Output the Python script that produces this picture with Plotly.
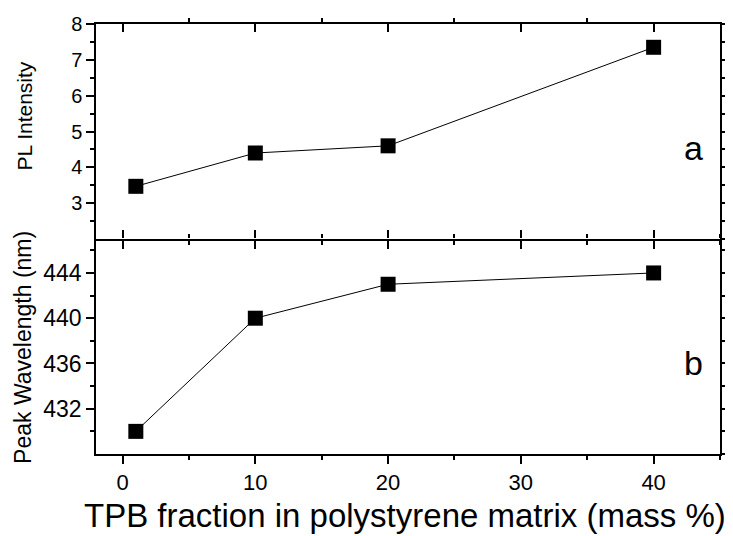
import plotly.graph_objects as go

# Data
tpb_fraction = [1, 10, 20, 40]
pl_intensity = [3.47, 4.4, 4.6, 7.35]
peak_wavelength = [430, 440, 443, 444]

x_ticks = [0, 10, 20, 30, 40]
pl_ticks = [3, 4, 5, 6, 7, 8]
wl_ticks = [432, 436, 440, 444]

FONT = "Liberation Sans, Arial, sans-serif"
X_RANGE = [-2, 45]
PL_RANGE = [2, 8]
WL_RANGE = [428, 447]

fig = go.Figure()

marker = dict(symbol="square", size=15, color="black")
line = dict(color="black", width=1)

fig.add_trace(go.Scatter(x=tpb_fraction, y=pl_intensity, mode="lines+markers",
                         marker=marker, line=line, xaxis="x2", yaxis="y2",
                         showlegend=False))
fig.add_trace(go.Scatter(x=tpb_fraction, y=peak_wavelength, mode="lines+markers",
                         marker=marker, line=line, xaxis="x", yaxis="y",
                         showlegend=False))

# transparent copies so the frame-only overlay axes get drawn
ghost = dict(mode="markers", marker=dict(opacity=0, size=1), hoverinfo="skip",
             showlegend=False)
fig.add_trace(go.Scatter(x=tpb_fraction, y=pl_intensity, xaxis="x3", yaxis="y2", **ghost))
fig.add_trace(go.Scatter(x=tpb_fraction, y=peak_wavelength, xaxis="x4", yaxis="y", **ghost))
fig.add_trace(go.Scatter(x=tpb_fraction, y=peak_wavelength, xaxis="x", yaxis="y3", **ghost))
fig.add_trace(go.Scatter(x=tpb_fraction, y=pl_intensity, xaxis="x2", yaxis="y4", **ghost))

common_x = dict(range=X_RANGE, showgrid=False, zeroline=False, showline=True,
                automargin=False,
                linecolor="black", linewidth=1.5, tickcolor="black", tickwidth=1.5,
                ticklen=8, tickvals=x_ticks,
                minor=dict(dtick=10, tick0=5, ticklen=4, tickcolor="black", tickwidth=1.5,
                           showgrid=False))

common_y = dict(showgrid=False, zeroline=False, showline=True, automargin=False,
                linecolor="black", linewidth=1.5, tickwidth=1.5, tickcolor="black")

layout = dict(
    width=733, height=536,
    margin=dict(l=88, r=21, t=16, b=90),
    paper_bgcolor="white", plot_bgcolor="white",
    font=dict(family=FONT, color="black"),
    showlegend=False,
    xaxis=dict(common_x, anchor="y", ticks="outside",
               tickfont=dict(size=22, family=FONT, color="black")),
    xaxis2=dict(common_x, anchor="y2", ticks="outside", showticklabels=False),
    xaxis3=dict(common_x, anchor="y2", overlaying="x2", side="top",
                ticks="inside", showticklabels=False),
    xaxis4=dict(common_x, anchor="y", overlaying="x", side="top", showline=False,
                ticks="outside", showticklabels=False),
    yaxis=dict(common_y, domain=[0, 0.5], range=WL_RANGE, anchor="x",
               ticks="outside", ticklen=8,
               tickvals=wl_ticks, tickfont=dict(size=23, family=FONT, color="black"),
               minor=dict(dtick=4, tick0=430, ticklen=4, tickcolor="black",
                          tickwidth=1.5, showgrid=False)),
    yaxis2=dict(common_y, domain=[0.5, 1], range=PL_RANGE, anchor="x2",
                ticks="outside", ticklen=8,
                tickvals=pl_ticks, tickfont=dict(size=20, family=FONT, color="black"),
                minor=dict(dtick=1, tick0=2.5, ticklen=4, tickcolor="black",
                           tickwidth=1.5, showgrid=False)),
    yaxis3=dict(common_y, overlaying="y", side="right", anchor="x", range=WL_RANGE,
                ticks="outside", ticklen=3, dtick=2, tick0=430, showticklabels=False),
    yaxis4=dict(common_y, overlaying="y2", side="right", anchor="x2", range=PL_RANGE,
                ticks="outside", ticklen=3, dtick=0.5, tick0=2.5, showticklabels=False),
    annotations=[
        dict(text="TPB fraction in polystyrene matrix (mass %)", xref="paper", yref="paper",
             x=0.495, y=-0.144, xanchor="center", yanchor="middle", showarrow=False,
             font=dict(size=33, family=FONT, color="black")),
        dict(text="PL Intensity", xref="paper", yref="paper", x=-0.1138, y=0.787,
             xanchor="center", yanchor="middle", textangle=-90, showarrow=False,
             font=dict(size=21, family=FONT, color="black")),
        dict(text="Peak Wavelength (nm)", xref="paper", yref="paper", x=-0.117, y=0.249,
             xanchor="center", yanchor="middle", textangle=-90, showarrow=False,
             font=dict(size=23, family=FONT, color="black")),
        dict(text="a", xref="paper", yref="paper", x=0.957, y=0.712,
             xanchor="center", yanchor="middle", showarrow=False,
             font=dict(size=34, family=FONT, color="black")),
        dict(text="b", xref="paper", yref="paper", x=0.957, y=0.212,
             xanchor="center", yanchor="middle", showarrow=False,
             font=dict(size=34, family=FONT, color="black")),
    ],
)

fig.update_layout(layout)
fig.write_html("out.html")
